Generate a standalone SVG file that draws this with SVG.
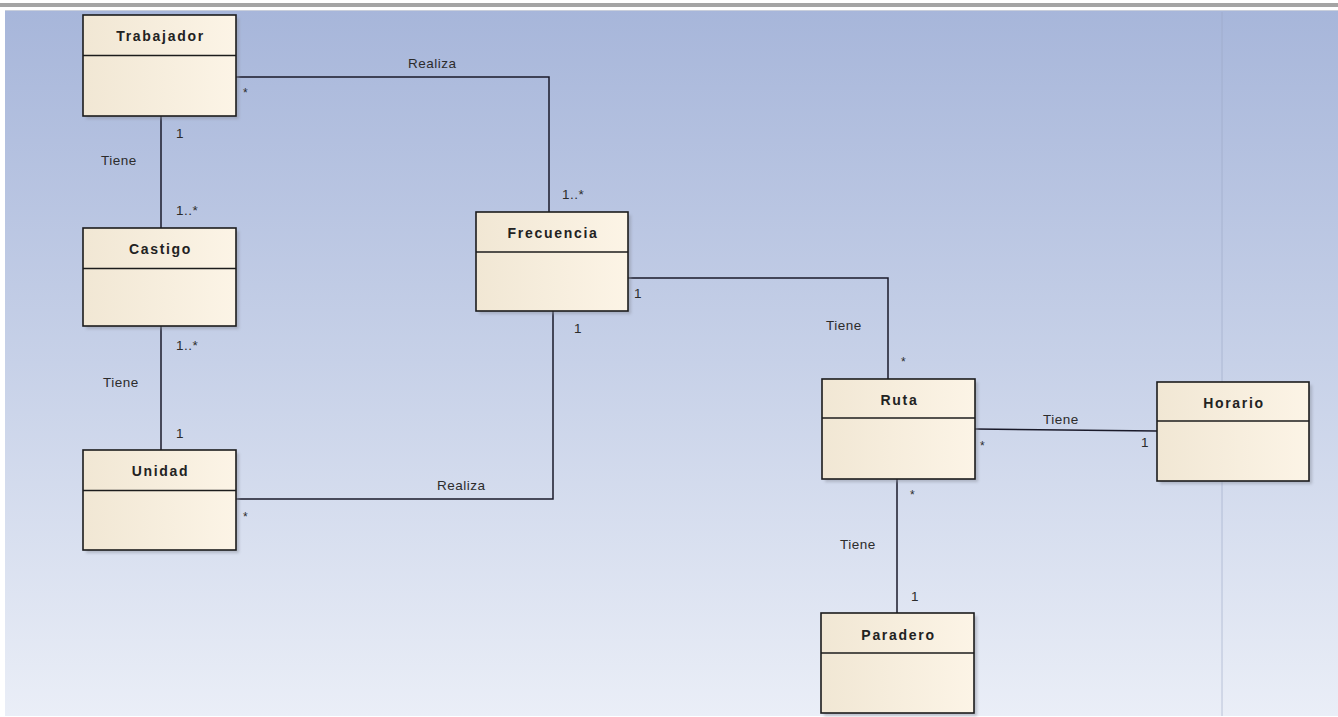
<svg xmlns="http://www.w3.org/2000/svg" width="1338" height="717" viewBox="0 0 1338 717">
  <defs>
    <linearGradient id="bg" x1="0" y1="0" x2="0" y2="1">
      <stop offset="0" stop-color="#a7b6da"/>
      <stop offset="0.5" stop-color="#c7d1e8"/>
      <stop offset="1" stop-color="#eaeef7"/>
    </linearGradient>
    <linearGradient id="cls" x1="0" y1="0" x2="1" y2="0">
      <stop offset="0" stop-color="#f1e7d4"/>
      <stop offset="1" stop-color="#fcf4e6"/>
    </linearGradient>
    <filter id="shadow" x="-10%" y="-10%" width="130%" height="130%">
      <feGaussianBlur stdDeviation="1.5"/>
    </filter>
  </defs>
  <style>
    .shadow { fill: #8a8f9c; opacity: 0.5; filter: url(#shadow); }
    .box { fill: url(#cls); stroke: #1c1c1c; stroke-width: 1.6; }
    .div { stroke: #1c1c1c; stroke-width: 1.4; }
    .title { font-family: "Liberation Sans", Arial, sans-serif; font-size: 14px; font-weight: bold; letter-spacing: 1.7px; fill: #222; text-anchor: middle; }
    .lbl { font-family: "Liberation Sans", Arial, sans-serif; font-size: 13.5px; letter-spacing: 0.5px; fill: #2c2c2c; }
    .mult { font-family: "Liberation Sans", Arial, sans-serif; font-size: 12px; fill: #2c2c2c; }
    .conn { fill: none; stroke: #1a1a2a; stroke-width: 1.5; }
  </style>

  <!-- canvas -->
  <rect x="0" y="0" width="1338" height="717" fill="#ffffff"/>
  <rect x="5" y="10" width="1333" height="706" fill="url(#bg)"/>
  <rect x="0" y="3" width="1338" height="4" fill="#a4a4a4"/>
  <line x1="5" y1="10.5" x2="1338" y2="10.5" stroke="#c9cfdc" stroke-width="1"/>
  <!-- page boundary -->
  <line x1="1222" y1="12" x2="1222" y2="716" stroke="#9aa6c4" stroke-width="1" opacity="0.6"/>

  <!-- connectors -->
  <g id="connectors">
    <polyline class="conn" points="236,77 549,77 549,212"/>
    <line class="conn" x1="161" y1="116" x2="161" y2="228"/>
    <line class="conn" x1="161" y1="326" x2="161" y2="450"/>
    <polyline class="conn" points="236,499 553,499 553,311"/>
    <polyline class="conn" points="628,278 888,278 888,379"/>
    <line class="conn" x1="975" y1="429" x2="1157" y2="431"/>
    <line class="conn" x1="897" y1="479" x2="897" y2="613"/>

    <!-- Trabajador - Frecuencia -->
    <text class="lbl" x="408" y="68">Realiza</text>
    <text class="mult" x="243" y="97">*</text>
    <text class="lbl" x="562" y="199">1..*</text>

    <!-- Trabajador - Castigo -->
    <text class="lbl" x="176" y="138">1</text>
    <text class="lbl" x="101" y="165">Tiene</text>
    <text class="lbl" x="176" y="215">1..*</text>

    <!-- Castigo - Unidad -->
    <text class="lbl" x="176" y="350">1..*</text>
    <text class="lbl" x="103" y="387">Tiene</text>
    <text class="lbl" x="176" y="438">1</text>

    <!-- Unidad - Frecuencia -->
    <text class="lbl" x="437" y="490">Realiza</text>
    <text class="mult" x="243" y="521">*</text>
    <text class="lbl" x="574" y="333">1</text>

    <!-- Frecuencia - Ruta -->
    <text class="lbl" x="634" y="298">1</text>
    <text class="lbl" x="826" y="330">Tiene</text>
    <text class="mult" x="901" y="366">*</text>

    <!-- Ruta - Horario -->
    <text class="lbl" x="1043" y="424">Tiene</text>
    <text class="mult" x="980" y="450">*</text>
    <text class="lbl" x="1141" y="447">1</text>

    <!-- Ruta - Paradero -->
    <text class="mult" x="910" y="499">*</text>
    <text class="lbl" x="840" y="549">Tiene</text>
    <text class="lbl" x="911" y="601">1</text>
  </g>

  <!-- classes -->
  <g id="trabajador">
    <rect class="shadow" x="86" y="18" width="153" height="101"/>
    <rect class="box" x="83" y="15" width="153" height="101"/>
    <line class="div" x1="83" y1="55.5" x2="236" y2="55.5"/>
    <text class="title" x="160.5" y="41">Trabajador</text>
  </g>
  <g id="castigo">
    <rect class="shadow" x="86" y="231" width="153" height="98"/>
    <rect class="box" x="83" y="228" width="153" height="98"/>
    <line class="div" x1="83" y1="268.5" x2="236" y2="268.5"/>
    <text class="title" x="160.5" y="254">Castigo</text>
  </g>
  <g id="unidad">
    <rect class="shadow" x="86" y="453" width="153" height="100"/>
    <rect class="box" x="83" y="450" width="153" height="100"/>
    <line class="div" x1="83" y1="490.5" x2="236" y2="490.5"/>
    <text class="title" x="160.5" y="476">Unidad</text>
  </g>
  <g id="frecuencia">
    <rect class="shadow" x="479" y="215" width="152" height="99"/>
    <rect class="box" x="476" y="212" width="152" height="99"/>
    <line class="div" x1="476" y1="252" x2="628" y2="252"/>
    <text class="title" x="553" y="238">Frecuencia</text>
  </g>
  <g id="ruta">
    <rect class="shadow" x="825" y="382" width="153" height="100"/>
    <rect class="box" x="822" y="379" width="153" height="100"/>
    <line class="div" x1="822" y1="418" x2="975" y2="418"/>
    <text class="title" x="899.5" y="405">Ruta</text>
  </g>
  <g id="horario">
    <rect class="shadow" x="1160" y="385" width="152" height="99"/>
    <rect class="box" x="1157" y="382" width="152" height="99"/>
    <line class="div" x1="1157" y1="421" x2="1309" y2="421"/>
    <text class="title" x="1234" y="408">Horario</text>
  </g>
  <g id="paradero">
    <rect class="shadow" x="824" y="616" width="153" height="100"/>
    <rect class="box" x="821" y="613" width="153" height="100"/>
    <line class="div" x1="821" y1="653" x2="974" y2="653"/>
    <text class="title" x="898.5" y="640">Paradero</text>
  </g>
</svg>
